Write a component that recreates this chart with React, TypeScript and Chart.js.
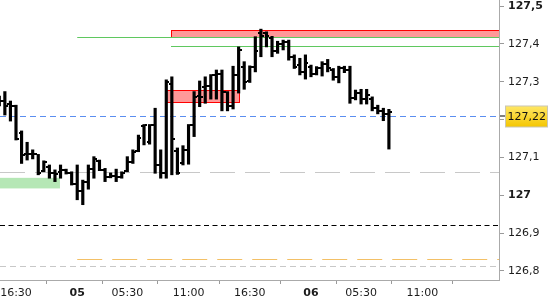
import React, { useEffect, useRef } from "react";
import { Chart, registerables } from "chart.js";

Chart.register(...registerables);

// 30-minute bars: day 4 15:00 -> day 6 08:00 (session 01:00-22:00)
const times = [
  "15:00", "15:30", "16:00", "16:30", "17:00", "17:30", "18:00", "18:30", "19:00", "19:30",
  "20:00", "20:30", "21:00", "21:30",
  "01:00", "01:30", "02:00", "02:30", "03:00", "03:30", "04:00", "04:30", "05:00", "05:30",
  "06:00", "06:30", "07:00", "07:30", "08:00", "08:30", "09:00", "09:30", "10:00", "10:30",
  "11:00", "11:30", "12:00", "12:30", "13:00", "13:30", "14:00", "14:30", "15:00", "15:30",
  "16:00", "16:30", "17:00", "17:30", "18:00", "18:30", "19:00", "19:30", "20:00", "20:30",
  "21:00", "21:30",
  "01:00", "01:30", "02:00", "02:30", "03:00", "03:30", "04:00", "04:30", "05:00", "05:30",
  "06:00", "06:30", "07:00", "07:30", "08:00",
];

const highs = [
  127.262, 127.274, 127.249, 127.238, 127.170, 127.140, 127.120, 127.108, 127.091, 127.080,
  127.067, 127.080, 127.069, 127.062,
  127.080, 127.040, 127.080, 127.102, 127.093, 127.071, 127.059, 127.069, 127.062, 127.102,
  127.120, 127.159, 127.187, 127.187, 127.230, 127.120, 127.305, 127.313, 127.125, 127.131,
  127.187, 127.274, 127.302, 127.313, 127.319, 127.331, 127.331, 127.274, 127.341, 127.392,
  127.353, 127.342, 127.419, 127.439, 127.432, 127.420, 127.407, 127.410, 127.410, 127.371,
  127.362, 127.371,
  127.344, 127.340, 127.353, 127.359, 127.335, 127.341, 127.341, 127.341, 127.278, 127.280,
  127.280, 127.260, 127.238, 127.230, 127.227,
];

const lows = [
  127.236, 127.212, 127.196, 127.146, 127.084, 127.093, 127.096, 127.054, 127.062, 127.045,
  127.036, 127.045, 127.056, 127.027,
  126.988, 126.975, 127.016, 127.045, 127.065, 127.036, 127.046, 127.036, 127.045, 127.062,
  127.084, 127.115, 127.133, 127.135, 127.058, 127.045, 127.045, 127.054, 127.055, 127.080,
  127.082, 127.155, 127.234, 127.243, 127.254, 127.254, 127.223, 127.223, 127.228, 127.270,
  127.280, 127.298, 127.326, 127.366, 127.392, 127.366, 127.375, 127.384, 127.357, 127.335,
  127.318, 127.307,
  127.313, 127.318, 127.315, 127.326, 127.304, 127.297, 127.324, 127.243, 127.252, 127.241,
  127.241, 127.223, 127.215, 127.197, 127.122,
];

const opens = [
  127.255, 127.250, 127.240, 127.235, 127.165, 127.108, 127.109, 127.108, 127.064, 127.075,
  127.058, 127.062, 127.066, 127.060,
  127.030, 127.011, 127.035, 127.070, 127.090, 127.067, 127.049, 127.052, 127.049, 127.064,
  127.089, 127.118, 127.184, 127.140, 127.186, 127.080, 127.058, 127.295, 127.118, 127.085,
  127.120, 127.185, 127.262, 127.285, 127.290, 127.317, 127.320, 127.273, 127.236, 127.318,
  127.340, 127.302, 127.338, 127.430, 127.428, 127.415, 127.380, 127.400, 127.405, 127.365,
  127.345, 127.325,
  127.340, 127.320, 127.335, 127.348, 127.330, 127.312, 127.335, 127.330, 127.258, 127.270,
  127.255, 127.255, 127.230, 127.222, 127.215,
];

const closes = [
  127.248, 127.236, 127.236, 127.149, 127.106, 127.108, 127.109, 127.058, 127.088, 127.058,
  127.055, 127.068, 127.060, 127.030,
  127.011, 127.035, 127.070, 127.095, 127.067, 127.049, 127.052, 127.049, 127.058, 127.089,
  127.115, 127.150, 127.185, 127.186, 127.080, 127.058, 127.298, 127.149, 127.058, 127.120,
  127.185, 127.260, 127.260, 127.290, 127.317, 127.320, 127.273, 127.236, 127.318, 127.385,
  127.300, 127.338, 127.380, 127.420, 127.420, 127.380, 127.400, 127.405, 127.365, 127.340,
  127.325, 127.350,
  127.320, 127.335, 127.348, 127.335, 127.312, 127.335, 127.330, 127.258, 127.270, 127.255,
  127.265, 127.230, 127.222, 127.215, 127.220,
];

// axis ticks (bar index -> label)
const xTickIndex = [3, 14, 23, 34, 45, 56, 65, 76, 87];
const xTickLabels = ["16:30", "05", "05:30", "11:00", "16:30", "06", "05:30", "11:00", ""];
const xBoldLabels = ["05", "06"];
const yTicks = [126.8, 126.9, 127.0, 127.1, 127.2, 127.3, 127.4, 127.5];
const yBoldTicks = [127.0, 127.5];

const xRange = [0.126, 89.78];
const yRange = [126.776, 127.516];

// zones and levels (price values, start/end as bar index; null = chart edge)
const resistTop = [127.437, 127.278];
const resistBottom = [127.418, 127.246];
const resistFrom = [30.85, 29.95];
const resistTo = [null, 43.1];

const supportTop = [127.046];
const supportBottom = [127.018];
const supportFrom = [null];
const supportTo = [10.9];

const greenLevels = [127.417, 127.394];
const greenFrom = [14, 30.85];

const greyDashLevel = 127.061;
const blackDashLevel = 126.921;
const orangeDashLevel = 126.832;
const orangeFrom = 14;
const greyDotLevel = 126.813;

const currentPrice = 127.21;
const currentPriceText = "127,22";

const FONT = "'DejaVu Sans', Verdana, sans-serif";

const overlayPlugin = {
  id: "overlay",
  beforeDatasetsDraw(chart: any) {
    const { ctx, chartArea: a, scales } = chart;
    const x = scales.x;
    const y = scales.y;
    const px = (v: number | null, edge: number) => (v == null ? edge : x.getPixelForValue(v));
    const py = (v: number) => Math.round(y.getPixelForValue(v)) + 0.5;
    ctx.save();
    ctx.beginPath();
    ctx.rect(a.left, a.top, a.right - a.left, a.bottom - a.top);
    ctx.clip();

    const hline = (v: number, from: number | null, to: number | null, color: string, dash: number[]) => {
      ctx.beginPath();
      ctx.setLineDash(dash);
      ctx.strokeStyle = color;
      ctx.lineWidth = 1;
      const yy = py(v);
      ctx.moveTo(px(from, a.left), yy);
      ctx.lineTo(px(to, a.right), yy);
      ctx.stroke();
    };

    // support zone
    supportTop.forEach((t, k) => {
      const x0 = px(supportFrom[k], a.left);
      const x1 = px(supportTo[k], a.right);
      const y0 = y.getPixelForValue(t);
      const y1 = y.getPixelForValue(supportBottom[k]);
      ctx.fillStyle = "#b5e7b5";
      ctx.fillRect(x0, y0, x1 - x0, y1 - y0);
    });

    // resistance zones
    resistTop.forEach((t, k) => {
      const x0 = Math.round(px(resistFrom[k], a.left)) + 0.5;
      const x1 = Math.round(px(resistTo[k], a.right)) + 0.5;
      const y0 = py(t);
      const y1 = py(resistBottom[k]);
      ctx.fillStyle = "#ff9999";
      ctx.fillRect(x0, y0, x1 - x0, y1 - y0);
      ctx.setLineDash([]);
      ctx.strokeStyle = "#ff0000";
      ctx.lineWidth = 1;
      ctx.strokeRect(x0, y0, x1 - x0, y1 - y0);
    });

    hline(greyDashLevel, null, null, "#c8c8c8", [25, 10]);
    hline(blackDashLevel, null, null, "#000000", [5, 3.5]);
    hline(orangeDashLevel, orangeFrom, null, "#f3c066", [25, 10]);
    hline(greyDotLevel, null, null, "#c8c8c8", [6, 4]);
    hline(currentPrice, null, null, "#5b8ef0", [6, 4]);
    greenLevels.forEach((v, k) => hline(v, greenFrom[k], null, "#5fc85f", []));

    ctx.restore();
  },
  afterDatasetsDraw(chart: any) {
    const { ctx, chartArea: a, scales } = chart;
    const x = scales.x;
    const y = scales.y;
    ctx.save();
    ctx.beginPath();
    ctx.rect(a.left, a.top, a.right - a.left, a.bottom - a.top);
    ctx.clip();
    ctx.fillStyle = "#000";
    times.forEach((_, i) => {
      const xp = Math.round(x.getPixelForValue(i));
      const yo = Math.round(y.getPixelForValue(opens[i]));
      const yc = Math.round(y.getPixelForValue(closes[i]));
      ctx.fillRect(xp - 3, yo - 1, 2, 2);
      ctx.fillRect(xp + 1, yc - 1, 2, 2);
    });
    ctx.restore();
  },
  afterDraw(chart: any) {
    const { ctx, chartArea: a, scales } = chart;
    const y = scales.y;
    const yy = Math.round(y.getPixelForValue(currentPrice));
    ctx.save();
    // dark tick mark on axis
    ctx.fillStyle = "#000";
    ctx.fillRect(a.right + 1, yy - 0.5, 5, 1);
    const bx = a.right + 6.5;
    const bw = 42;
    const bh = 21;
    const by = yy - bh / 2 + 0.5;
    const g = ctx.createLinearGradient(0, by, 0, by + bh);
    g.addColorStop(0, "#ffe766");
    g.addColorStop(1, "#f4c600");
    ctx.fillStyle = g;
    ctx.fillRect(bx, by, bw, bh);
    ctx.strokeStyle = "#c9c6b4";
    ctx.lineWidth = 1;
    ctx.strokeRect(bx, by, bw, bh);
    ctx.fillStyle = "#111";
    ctx.font = `11px ${FONT}`;
    ctx.textBaseline = "middle";
    ctx.textAlign = "left";
    ctx.fillText(currentPriceText, bx + 2, yy + 1);
    ctx.restore();
  },
};

export default function App() {
  const ref = useRef<HTMLCanvasElement | null>(null);

  useEffect(() => {
    if (!ref.current) return;
    const chart = new Chart(ref.current, {
      type: "bar",
      data: {
        datasets: [
          {
            data: times.map((_, i) => ({ x: i, y: [lows[i], highs[i]] })) as any,
            backgroundColor: "#000",
            borderWidth: 0,
            barThickness: 2.5,
          },
        ],
      },
      options: {
        responsive: false,
        animation: false,
        events: [],
        layout: { padding: 0 },
        plugins: { legend: { display: false }, tooltip: { enabled: false } },
        scales: {
          x: {
            type: "linear",
            min: xRange[0],
            max: xRange[1],
            offset: false,
            grid: { drawOnChartArea: false, drawTicks: true, tickLength: 4, tickColor: "#9a9a9a" },
            border: { color: "#aaaaaa" },
            afterBuildTicks: (s: any) => {
              s.ticks = xTickIndex.map((v) => ({ value: v }));
            },
            afterFit: (s: any) => {
              s.height = 20;
              s.paddingLeft = 0;
              s.paddingRight = 0;
              s.paddingTop = 0;
              s.paddingBottom = 0;
            },
            ticks: {
              autoSkip: false,
              maxRotation: 0,
              minRotation: 0,
              padding: 3,
              color: "#1c1c1c",
              callback: (v: any) => {
                const k = xTickIndex.indexOf(Math.round(Number(v)));
                return k >= 0 ? xTickLabels[k] : "";
              },
              font: (c: any) => {
                const k = c.tick ? xTickIndex.indexOf(Math.round(c.tick.value)) : -1;
                const bold = k >= 0 && xBoldLabels.includes(xTickLabels[k]);
                return { family: FONT, size: 11, weight: bold ? "bold" : "normal" };
              },
            },
          },
          y: {
            type: "linear",
            position: "right",
            min: yRange[0],
            max: yRange[1],
            grid: { drawOnChartArea: false, drawTicks: true, tickLength: 5, tickColor: "#9a9a9a" },
            border: { color: "#aaaaaa" },
            afterBuildTicks: (s: any) => {
              s.ticks = yTicks.map((v) => ({ value: v }));
            },
            afterFit: (s: any) => {
              s.width = 51;
              s.paddingLeft = 0;
              s.paddingRight = 0;
              s.paddingTop = 0;
              s.paddingBottom = 0;
            },
            ticks: {
              padding: 4,
              color: "#1c1c1c",
              callback: (v: any) => {
                const n = Number(v);
                if (Math.abs(n - Math.round(n)) < 1e-6) return String(Math.round(n));
                return n.toFixed(1).replace(".", ",");
              },
              font: (c: any) => {
                const val = c.tick ? c.tick.value : 0;
                const bold = yBoldTicks.some((b) => Math.abs(b - val) < 1e-6);
                return { family: FONT, size: 11, weight: bold ? "bold" : "normal" };
              },
            },
          },
        },
      },
      plugins: [overlayPlugin],
    } as any);
    return () => chart.destroy();
  }, []);

  return (
    <div style={{ position: "fixed", left: 0, top: 0, width: 550, height: 300, background: "#fff" }}>
      <canvas ref={ref} width={550} height={300} style={{ display: "block" }} />
    </div>
  );
}
